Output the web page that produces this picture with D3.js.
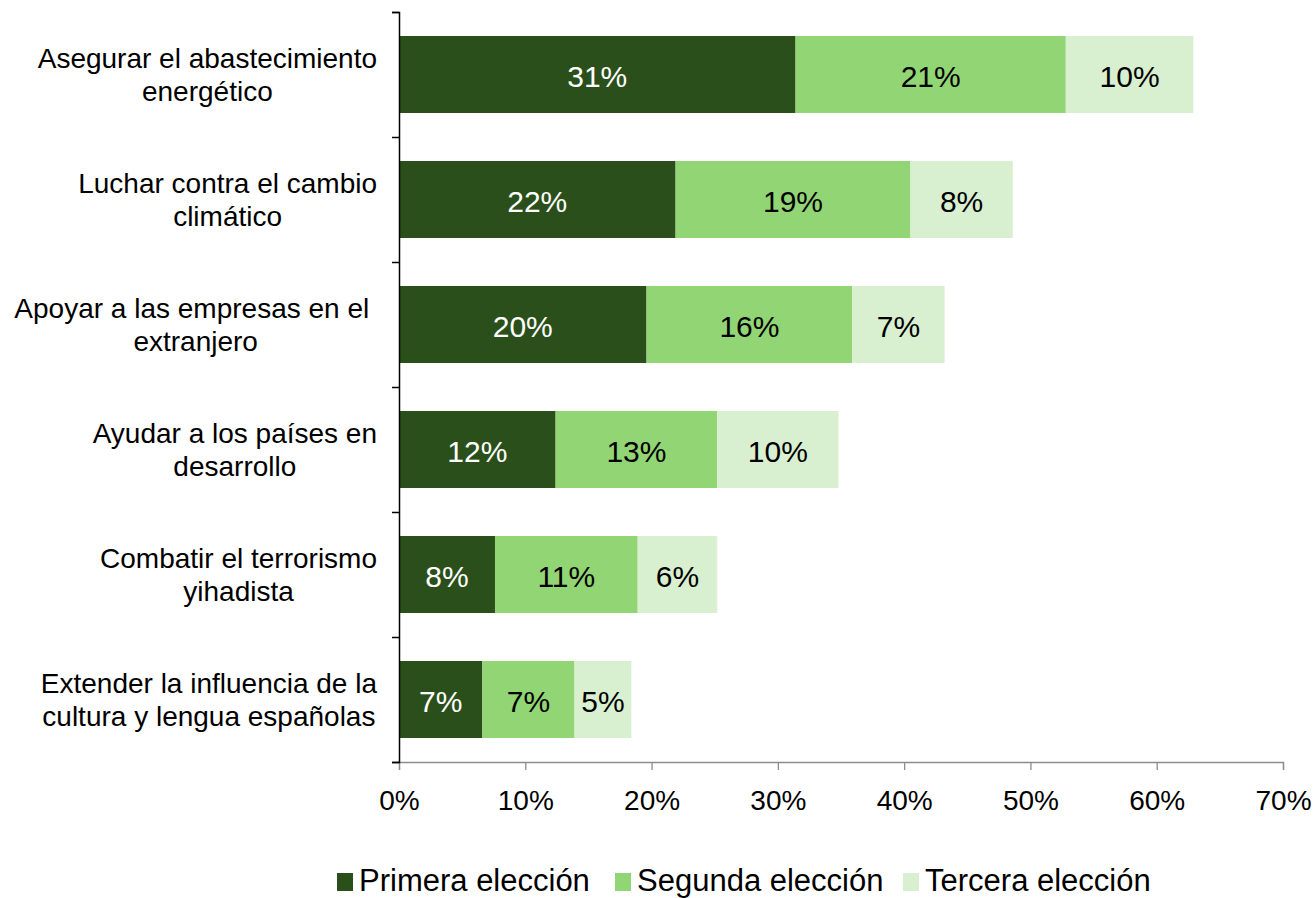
<!DOCTYPE html>
<html>
<head>
<meta charset="utf-8">
<script src="https://cdn.jsdelivr.net/npm/d3@7"></script>
<style>
body { margin: 0; background: #fff; }
svg { font-family: "Liberation Sans", Arial, sans-serif; }
</style>
</head>
<body>
<svg width="1314" height="898"></svg>
<script>
var categories = [
    ["Asegurar el abastecimiento", "energético"],
    ["Luchar contra el cambio", "climático"],
    ["Apoyar a las empresas en el ", "extranjero"],
    ["Ayudar a los países en", "desarrollo"],
    ["Combatir el terrorismo", "yihadista"],
    ["Extender la influencia de la", "cultura y lengua españolas"]
];
var series = ["Primera elección", "Segunda elección", "Tercera elección"];
var primera = [31.4, 21.9, 19.6, 12.4, 7.6, 6.6];
var segunda = [21.4, 18.6, 16.3, 12.8, 11.3, 7.3];
var tercera = [10.1, 8.1, 7.3, 9.6, 6.3, 4.5];
var xTicks = [0, 10, 20, 30, 40, 50, 60, 70];
var colors = ["#2b4f1b", "#92d575", "#d9f0d0"];
var textColors = ["#fff", "#000", "#000"];

var svg = d3.select("svg");
var plotLeft = 399, plotRight = 1283, plotTop = 12, plotBottom = 762;

var rows = categories.map(function(c, i) {
    return { idx: i, lines: c, v0: primera[i], v1: segunda[i], v2: tercera[i] };
});
var stack = d3.stack().keys(["v0", "v1", "v2"])(rows);

var xScale = d3.scaleLinear().domain([0, 70]).range([plotLeft, plotRight]);
var yScale = d3.scaleBand().domain(d3.range(categories.length)).range([plotTop, plotBottom])
    .paddingInner(0.384).paddingOuter(0.192);
var yEdges = d3.scaleLinear().domain([0, categories.length]).range([plotTop, plotBottom]);

// x axis (gray)
var xAxis = svg.append("g")
    .attr("transform", "translate(0," + plotBottom + ")")
    .call(d3.axisBottom(xScale).tickValues(xTicks).tickSize(8).tickPadding(20)
        .tickFormat(function(d) { return d + "%"; }));
xAxis.select(".domain").attr("stroke", "#8c8c8c").attr("stroke-width", 1.3);
xAxis.selectAll(".tick line").attr("stroke", "#8c8c8c").attr("stroke-width", 1.3);
xAxis.selectAll(".tick text").attr("font-size", 28).attr("fill", "#000")
    .attr("font-family", "Liberation Sans, Arial, sans-serif");

// bars
var layer = svg.append("g").selectAll("g").data(stack).enter().append("g")
    .attr("fill", function(d, i) { return colors[i]; });

layer.selectAll("rect").data(function(d) { return d; }).enter().append("rect")
    .attr("x", function(d) { return xScale(d[0]); })
    .attr("y", function(d) { return yScale(d.data.idx); })
    .attr("width", function(d) { return xScale(d[1]) - xScale(d[0]); })
    .attr("height", yScale.bandwidth());

layer.each(function(s, si) {
    d3.select(this).selectAll("text").data(s).enter().append("text")
        .attr("x", function(d) { return (xScale(d[0]) + xScale(d[1])) / 2; })
        .attr("y", function(d) { return yScale(d.data.idx) + yScale.bandwidth() / 2 + 12; })
        .attr("text-anchor", "middle")
        .attr("font-size", 30)
        .attr("fill", textColors[si])
        .text(function(d) { return Math.round(d[1] - d[0]) + "%"; });
});

// y axis (black) with ticks at band edges
var yAxis = svg.append("g")
    .attr("transform", "translate(" + plotLeft + ",0)")
    .call(d3.axisLeft(yEdges).ticks(categories.length).tickSize(7).tickFormat(""));
yAxis.select(".domain").attr("stroke", "#000").attr("stroke-width", 1.5);
yAxis.selectAll(".tick line").attr("stroke", "#000").attr("stroke-width", 1.5);

// category labels: block right aligned, lines centered within block
var labelRight = 377;
var labels = svg.append("g").selectAll("text").data(rows).enter().append("text")
    .attr("font-size", 28)
    .attr("fill", "#000")
    .style("white-space", "pre");
labels.each(function(d) {
    var t = d3.select(this);
    var cy = yScale(d.idx) + yScale.bandwidth() / 2;
    d.lines.forEach(function(line, li) {
        t.append("tspan").attr("y", cy - 7 + li * 33).text(line);
    });
    var maxW = 0;
    t.selectAll("tspan").each(function() {
        maxW = Math.max(maxW, this.getComputedTextLength());
    });
    t.attr("text-anchor", "middle");
    t.selectAll("tspan").attr("x", labelRight - maxW / 2);
});

// legend
var legendX = [337, 615, 903];
var legend = svg.append("g").selectAll("g").data(series).enter().append("g")
    .attr("transform", function(d, i) { return "translate(" + legendX[i] + ",873)"; });
legend.append("rect").attr("width", 16).attr("height", 18)
    .attr("fill", function(d, i) { return colors[i]; });
legend.append("text").attr("x", 22).attr("y", 18).attr("font-size", 31)
    .attr("fill", "#000").text(function(d) { return d; });
</script>
</body>
</html>
